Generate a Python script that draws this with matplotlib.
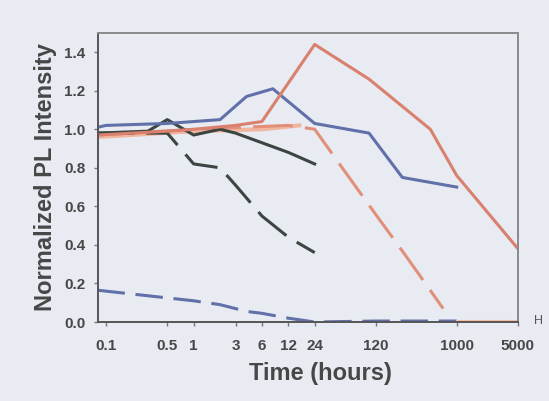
import matplotlib
matplotlib.use("Agg")
import matplotlib.pyplot as plt

plt.rcParams['font.family'] = ['Liberation Sans', 'DejaVu Sans']

# 数据
t_blue = [0.08, 0.1, 0.5, 1, 2, 4, 8, 24, 100, 240, 1000]
y_blue = [1.01, 1.02, 1.03, 1.04, 1.05, 1.17, 1.21, 1.03, 0.98, 0.75, 0.70]

t_black = [0.08, 0.3, 0.5, 1, 2, 3, 6, 12, 24]
y_black = [0.98, 0.99, 1.05, 0.97, 1.00, 0.98, 0.93, 0.88, 0.82]

t_black_d = [0.08, 0.5, 1, 2, 3, 6, 12, 24]
y_black_d = [0.98, 0.98, 0.82, 0.80, 0.71, 0.55, 0.44, 0.36]

t_red = [0.08, 0.5, 1, 3, 6, 24, 100, 500, 1000, 5000]
y_red = [0.97, 0.99, 1.00, 1.02, 1.04, 1.44, 1.26, 1.00, 0.76, 0.38]

t_salmon = [0.08, 1, 6, 16]
y_salmon = [0.96, 0.99, 1.00, 1.02]

t_red_d = [0.08, 1, 12, 24, 46, 110, 266, 700]
y_red_d = [0.97, 1.00, 1.02, 1.00, 0.82, 0.58, 0.34, 0.07]

t_orange_low = [1000, 5000]
y_orange_low = [0.005, 0.005]

t_blue_d = [0.08, 0.5, 1, 2, 4, 6, 12, 24, 120, 1000]
y_blue_d = [0.165, 0.125, 0.11, 0.09, 0.055, 0.045, 0.02, 0.0, 0.005, 0.005]

xticks = [0.1, 0.5, 1, 3, 6, 12, 24, 120, 1000, 5000]
xticklabels = ['0.1', '0.5', '1', '3', '6', '12', '24', '120', '1000', '5000']
yticks = [0.0, 0.2, 0.4, 0.6, 0.8, 1.0, 1.2, 1.4]

bg = '#e8ebf2'
c_blue = '#6170a8'
c_black = '#3b4541'
c_red = '#d9806e'
c_red_d = '#e28f7a'
c_salmon = '#f2b59e'
c_text = '#474747'

fig = plt.figure(figsize=(5.49, 4.01), dpi=100, facecolor=bg)
ax = fig.add_axes([0.1785, 0.197, 0.765, 0.721], facecolor=bg)

ax.plot(t_blue_d, y_blue_d, color=c_blue, lw=2.2, dashes=(9, 3.5))
ax.plot(t_orange_low, y_orange_low, color='#f4bfa6', lw=2.2)
ax.plot(t_salmon, y_salmon, color=c_salmon, lw=3)
ax.plot(t_red_d, y_red_d, color=c_red_d, lw=2.2, dashes=(13, 4))
ax.plot(t_black_d, y_black_d, color=c_black, lw=2.2, dashes=(12, 4))
ax.plot(t_black, y_black, color=c_black, lw=2.2)
ax.plot(t_blue, y_blue, color=c_blue, lw=2.2)
ax.plot(t_red, y_red, color=c_red, lw=2.2)

ax.set_xscale('log')
ax.set_xlim(0.081, 5000)
ax.set_ylim(0, 1.5)
ax.set_xticks(xticks)
ax.set_xticklabels(xticklabels)
ax.minorticks_off()
ax.set_yticks(yticks)
ax.set_yticklabels([f'{v:.1f}' for v in yticks])

ax.tick_params(axis='both', labelsize=11, colors='#777777', labelcolor=c_text,
               length=3, width=1)
ax.tick_params(axis='y', pad=6)
ax.tick_params(axis='x', pad=9)
for lab in ax.get_xticklabels() + ax.get_yticklabels():
    lab.set_fontweight('bold')

for s in ['left', 'bottom']:
    ax.spines[s].set_color('#555555')
    ax.spines[s].set_linewidth(1.4)
for s in ['top', 'right']:
    ax.spines[s].set_color('#8a8a8a')
    ax.spines[s].set_linewidth(1.4)

ax.set_xlabel('Time (hours)', fontsize=17, color=c_text, fontweight='bold')
ax.xaxis.set_label_coords(0.53, -0.14)
ax.set_ylabel('Normalized PL Intensity', fontsize=17, color=c_text, labelpad=5, fontweight='bold')

fig.text(0.972, 0.2, 'H', fontsize=9, color='#555555', va='center')

fig.savefig('out.png', dpi=100, facecolor=bg)
